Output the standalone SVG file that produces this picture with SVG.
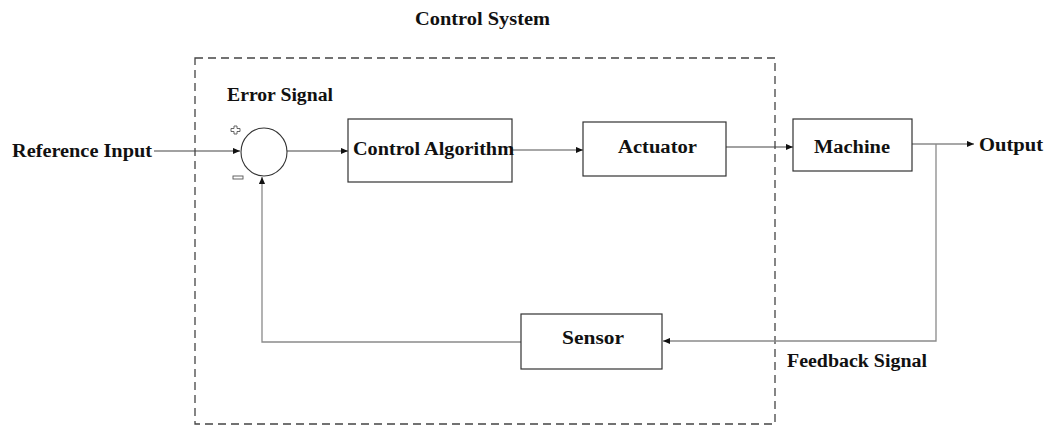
<svg xmlns="http://www.w3.org/2000/svg" width="1053" height="425" viewBox="0 0 1053 425">
  <style>
    .lbl { font-family: "Liberation Serif", "Times New Roman", serif; font-weight: bold; font-size: 18px; fill: #111; }
    .box { fill: #fff; stroke: #333; stroke-width: 1.2; }
    .wire { fill: none; stroke: #444; stroke-width: 1.1; }
    .wire-soft { fill: none; stroke: #8a8a8a; stroke-width: 1.3; }
    .frame { fill: none; stroke: #444; stroke-width: 1.3; stroke-dasharray: 8 5; }
  </style>
  <defs>
    <marker id="arrow" viewBox="0 0 8 8" refX="8" refY="4" markerWidth="7" markerHeight="7" markerUnits="userSpaceOnUse" orient="auto">
      <path d="M0,0.5 L8,4 L0,7.5 Z" fill="#111"/>
    </marker>
  </defs>

  <rect width="1053" height="425" fill="#fff"/>

  <!-- control system boundary -->
  <g id="control-system">
    <rect class="frame" x="195" y="58" width="580" height="366"/>
    <text class="lbl" x="415" y="25" textLength="135" lengthAdjust="spacingAndGlyphs">Control System</text>
  </g>

  <!-- connectors -->
  <g id="connectors">
    <line class="wire" x1="154" y1="151" x2="240" y2="151" marker-end="url(#arrow)"/>
    <line class="wire" x1="287" y1="151" x2="348" y2="151" marker-end="url(#arrow)"/>
    <line class="wire-soft" x1="512" y1="150" x2="583" y2="150" marker-end="url(#arrow)"/>
    <line class="wire" x1="726" y1="147" x2="793" y2="147" marker-end="url(#arrow)"/>
    <line class="wire-soft" x1="912" y1="144" x2="974" y2="144" marker-end="url(#arrow)"/>
    <polyline class="wire-soft" points="936,144 936,341 663,341" marker-end="url(#arrow)"/>
    <polyline class="wire-soft" points="521,342 262,342 262,177" marker-end="url(#arrow)"/>
  </g>

  <g id="reference-input">
    <text class="lbl" x="12" y="157" textLength="140" lengthAdjust="spacingAndGlyphs">Reference Input</text>
  </g>

  <g id="summing-junction">
    <ellipse cx="264" cy="152" rx="23" ry="24" fill="#fff" stroke="#333" stroke-width="1.1"/>
    <path d="M234,126 h3 v2.5 h3 v3 h-3 v2.5 h-3 v-2.5 h-3 v-3 h3 Z" fill="#fff" stroke="#555" stroke-width="0.9"/>
    <rect x="233" y="176" width="10" height="3" fill="#fff" stroke="#555" stroke-width="0.9"/>
    <text class="lbl" x="227" y="101" textLength="106" lengthAdjust="spacingAndGlyphs">Error Signal</text>
  </g>

  <g id="control-algorithm">
    <rect class="box" x="348" y="119" width="164" height="63"/>
    <text class="lbl" x="353" y="155" textLength="161" lengthAdjust="spacingAndGlyphs">Control Algorithm</text>
  </g>

  <g id="actuator">
    <rect class="box" x="583" y="122" width="143" height="54"/>
    <text class="lbl" x="618" y="153" textLength="79" lengthAdjust="spacingAndGlyphs">Actuator</text>
  </g>

  <g id="machine">
    <rect class="box" x="793" y="119" width="119" height="52"/>
    <text class="lbl" x="814" y="153" textLength="76" lengthAdjust="spacingAndGlyphs">Machine</text>
  </g>

  <g id="output">
    <text class="lbl" x="979" y="151" textLength="64" lengthAdjust="spacingAndGlyphs">Output</text>
  </g>

  <g id="sensor">
    <rect class="box" x="521" y="314" width="141" height="55"/>
    <text class="lbl" x="562" y="344" textLength="62" lengthAdjust="spacingAndGlyphs">Sensor</text>
  </g>

  <g id="feedback-signal">
    <text class="lbl" x="787" y="367" textLength="140" lengthAdjust="spacingAndGlyphs">Feedback Signal</text>
  </g>
</svg>
